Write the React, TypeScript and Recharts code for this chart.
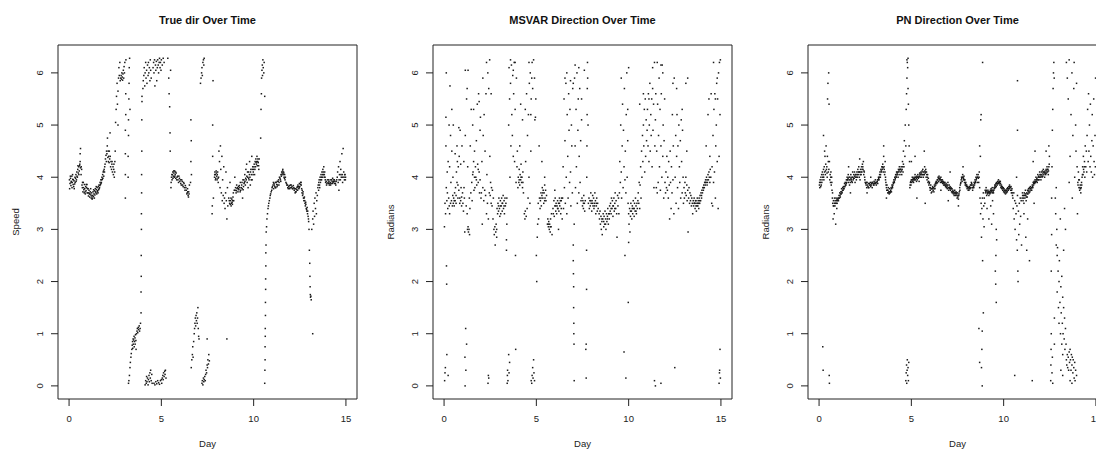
import React from 'react';
import { ScatterChart, Scatter, XAxis, YAxis, ReferenceArea } from 'recharts';

// [day, value] pairs
const trueDirPoints: number[][] = [
  [0.02,3.95],[0.05,3.88],[0.08,3.98],[0.1,3.84],[0.12,3.92],[0.15,4.02],[0.17,3.9],[0.2,3.96],[0.22,3.86],[0.25,3.82],[0.27,3.93],[0.3,3.87],[0.32,4.0],[0.35,3.98],[0.37,4.05],[0.4,3.95],[0.42,4.1],[0.45,4.0],[0.47,4.15],[0.5,4.08],[0.52,4.2],[0.55,4.12],[0.57,4.22],[0.6,4.3],[0.6,4.45],[0.62,4.55],[0.62,4.18],[0.65,4.05],[0.68,4.15],[0.7,3.85],
  [0.72,3.8],[0.75,3.72],[0.77,3.9],[0.8,3.76],[0.82,3.7],[0.85,3.78],[0.88,3.68],[0.9,3.82],[0.92,3.74],[0.95,3.8],[0.97,3.86],[1.0,3.78],
  [1.02,3.7],[1.05,3.64],[1.08,3.75],[1.1,3.68],[1.12,3.62],[1.15,3.72],[1.18,3.66],[1.2,3.6],[1.22,3.7],[1.25,3.58],[1.28,3.65],[1.3,3.72],[1.32,3.63],[1.35,3.68],[1.38,3.74],[1.4,3.66],[1.42,3.78],[1.45,3.7],[1.48,3.76],[1.5,3.68],[1.52,3.8],[1.55,3.74],[1.58,3.82],[1.6,3.76],
  [1.62,3.85],[1.65,3.8],[1.68,3.9],[1.7,3.86],[1.72,3.95],[1.75,3.9],[1.78,4.0],[1.8,3.96],[1.82,4.05],[1.85,4.1],[1.88,4.02],[1.9,4.15],[1.92,4.1],[1.95,4.25],
  [1.97,4.35],[2.0,4.42],[2.02,4.3],[2.05,4.45],[2.07,4.6],[2.08,4.75],[2.1,4.38],[2.12,4.5],[2.15,4.4],[2.17,4.28],[2.2,4.35],[2.22,4.85],[2.25,4.2],[2.27,4.3],[2.3,4.15],[2.32,4.25],[2.35,4.1],[2.38,4.2],[2.4,4.05],[2.42,4.15],[2.45,4.0],[2.48,4.3],
  [2.5,4.5],[2.52,5.05],[2.55,5.3],[2.57,5.55],[2.6,5.8],[2.62,5.4],[2.65,5.65],[2.65,5.0],[2.68,5.9],[2.7,6.1],[2.72,5.95],[2.75,6.2],[2.77,5.85],
  [2.8,5.9],[2.82,5.95],[2.84,5.88],[2.86,6.0],[2.88,5.92],[2.9,5.86],[2.92,5.98],[2.94,6.05],[2.96,5.9],[2.98,6.12],[3.0,6.0],[3.02,6.2],
  [3.05,3.6],[3.05,4.05],[3.05,4.45],[3.05,4.9],[3.07,5.2],[3.07,5.6],[3.08,6.25],
  [3.2,4.0],[3.2,4.4],[3.22,4.8],[3.22,5.1],[3.24,5.5],[3.25,5.8],[3.26,6.1],[3.28,6.28],[3.3,5.3],
  [3.22,0.05],[3.24,0.1],[3.27,0.2],[3.3,0.35],[3.32,0.45],[3.35,0.55],[3.37,0.62],[3.4,0.7],[3.42,0.78],[3.44,0.85],[3.45,0.72],[3.47,0.9],[3.48,0.8],[3.5,0.88],[3.52,0.95],[3.53,0.75],[3.55,0.85],[3.57,0.92],[3.58,0.8],[3.6,0.98],[3.62,0.87],[3.63,0.7],[3.65,1.0],
  [3.68,1.05],[3.7,1.1],[3.72,1.02],[3.75,1.12],[3.77,1.08],[3.8,1.15],[3.82,1.05],[3.85,1.1],[3.87,1.2],
  [3.9,1.4],[3.9,1.8],[3.91,2.1],[3.91,2.5],[3.92,3.0],[3.92,3.3],[3.93,3.7],[3.93,4.05],[3.94,4.5],[3.94,5.1],[3.95,5.45],[3.95,5.55],
  [4.0,5.7],[4.02,5.85],[4.05,5.95],[4.07,6.1],[4.1,5.75],[4.12,6.0],[4.15,6.2],[4.17,5.9],[4.2,6.05],[4.22,5.8],[4.25,6.15],[4.28,5.95],[4.3,6.2],[4.32,6.0],[4.35,6.1],[4.38,5.85],[4.4,6.25],[4.42,6.05],[4.45,5.9],
  [4.12,0.02],[4.15,0.1],[4.18,0.05],[4.2,0.18],[4.22,0.08],[4.25,0.15],[4.28,0.02],[4.3,0.12],[4.33,0.2],[4.35,0.08],[4.38,0.25],[4.4,0.15],[4.42,0.3],[4.45,0.1],[4.48,0.22],[4.5,0.05],
  [4.55,6.1],[4.58,6.2],[4.6,6.0],[4.63,6.25],[4.65,5.75],[4.68,6.15],[4.7,6.05],[4.73,6.22],[4.75,5.85],[4.78,6.1],[4.8,6.25],[4.83,6.15],[4.85,6.0],[4.88,6.2],[4.9,6.28],[4.93,6.1],[4.95,6.2],[4.98,6.05],[5.0,6.25],[5.05,6.15],[5.1,6.28],[5.15,6.2],
  [4.6,0.05],[4.65,0.02],[4.7,0.08],[4.75,0.04],[4.8,0.1],[4.85,0.06],[4.9,0.03],[4.95,0.1],[5.0,0.12],[5.02,0.05],[5.05,0.15],[5.08,0.2],[5.1,0.12],[5.12,0.25],[5.15,0.18],[5.18,0.28],[5.2,0.22],[5.22,0.3],[5.25,0.15],
  [5.35,6.28],[5.4,5.9],[5.42,5.6],[5.45,5.35],[5.47,4.85],[5.48,4.5],[5.5,6.05],
  [5.52,3.8],[5.55,4.0],[5.58,3.95],[5.6,4.05],[5.62,4.1],[5.65,4.02],[5.68,4.08],[5.7,4.0],[5.72,4.12],[5.75,4.05],[5.78,3.98],[5.8,4.08],
  [5.85,4.0],[5.9,3.95],[5.95,4.02],[6.0,3.92],[6.05,3.88],[6.1,3.95],[6.15,3.85],[6.2,3.9],[6.25,3.8],[6.3,3.84],[6.35,3.75],[6.4,3.7],[6.42,3.78],[6.45,3.65],[6.48,3.72],[6.5,3.68],[6.52,3.85],
  [6.58,3.9],[6.6,4.3],[6.62,4.7],[6.6,5.1],[6.63,4.05],
  [6.62,0.35],[6.65,0.5],[6.68,0.6],[6.7,0.75],[6.72,0.55],[6.75,0.85],
  [6.78,1.0],[6.8,1.1],[6.82,1.2],[6.84,1.3],[6.86,1.15],[6.88,1.35],[6.9,1.25],[6.92,1.4],[6.94,1.2],[6.96,1.3],[6.98,1.5],[7.0,1.1],[7.02,0.95],[7.04,0.9],
  [7.12,5.8],[7.15,5.9],[7.18,6.0],[7.2,6.1],[7.22,5.95],[7.25,6.2],[7.28,6.25],[7.3,6.15],[7.32,6.28],
  [7.2,0.05],[7.22,0.1],[7.25,0.02],[7.28,0.15],[7.3,0.08],[7.32,0.12],[7.35,0.18],[7.38,0.1],[7.4,0.22],[7.42,0.3],[7.45,0.25],[7.48,0.4],[7.5,0.35],[7.52,0.5],[7.55,0.42],[7.57,0.6],[7.6,0.48],[7.48,0.9],
  [7.75,3.3],[7.76,3.45],[7.78,4.4],[7.78,5.0],[7.8,5.85],[7.82,3.6],
  [7.88,4.0],[7.9,4.1],[7.92,4.05],[7.95,3.98],[7.98,4.08],[8.0,4.02],[8.02,3.95],[8.05,4.1],[8.08,3.9],[8.1,4.0],
  [8.12,4.5],[8.15,4.3],[8.18,3.8],[8.2,4.6],[8.22,4.15],[8.25,3.7],[8.28,4.4],[8.3,3.55],[8.32,3.95],[8.35,3.65],[8.38,4.2],[8.4,3.5],[8.42,3.6],[8.45,3.4],[8.48,3.7],[8.5,4.1],[8.52,3.55],[8.55,3.2],[8.58,3.8],[8.6,3.45],[8.55,0.9],
  [8.65,3.6],[8.7,3.5],[8.72,3.9],[8.75,3.55],[8.78,3.45],[8.8,3.5],[8.82,3.58],[8.85,3.48],[8.88,3.62],[8.9,3.7],[8.92,3.55],[8.95,3.75],[8.98,4.0],
  [9.0,3.75],[9.05,3.7],[9.08,3.85],[9.1,3.78],[9.15,3.72],[9.18,3.82],[9.2,3.76],[9.25,3.8],[9.28,3.9],[9.3,3.75],[9.35,3.85],[9.38,3.78],[9.4,3.6],[9.42,3.95],[9.45,3.82],[9.48,3.88],
  [9.5,3.9],[9.52,4.05],[9.55,3.85],[9.58,4.15],[9.6,3.95],[9.62,4.25],[9.65,3.9],[9.68,4.0],[9.7,3.8],[9.72,4.1],[9.75,3.95],[9.78,4.3],[9.8,4.0],[9.82,3.85],[9.85,4.15],[9.88,4.05],[9.9,4.4],[9.92,3.95],[9.95,4.2],[9.98,4.1],
  [10.0,4.15],[10.03,4.25],[10.05,4.05],[10.08,4.3],[10.1,4.2],[10.12,4.35],[10.15,4.25],[10.18,4.4],[10.2,4.22],[10.22,4.3],[10.25,4.28],[10.28,4.15],[10.3,4.35],
  [10.38,4.75],[10.4,5.3],[10.42,5.6],[10.43,5.9],[10.45,6.05],[10.47,6.15],[10.48,5.95],[10.5,6.25],[10.52,6.1],[10.55,6.0],[10.57,6.2],[10.6,5.55],
  [10.6,0.05],[10.61,0.3],[10.62,0.5],[10.62,0.75],[10.63,0.95],[10.63,1.1],[10.64,1.35],[10.64,1.6],[10.65,1.85],[10.65,2.05],[10.66,2.3],[10.66,2.55],[10.67,2.7],[10.68,2.95],
  [10.7,3.05],[10.72,3.2],[10.75,3.3],[10.78,3.4],[10.8,3.45],[10.82,3.5],[10.85,3.55],[10.88,3.6],[10.9,3.65],[10.92,3.68],[10.95,3.72],[10.98,3.75],
  [11.0,3.8],[11.05,3.85],[11.08,3.78],[11.1,3.88],[11.15,3.82],[11.18,3.9],[11.2,3.8],[11.25,3.86],[11.28,3.92],[11.3,3.85],[11.35,3.95],[11.38,3.9],[11.4,4.0],[11.45,3.95],[11.48,4.05],
  [11.5,4.02],[11.52,4.1],[11.55,4.08],[11.58,4.15],[11.6,4.05],[11.62,4.1],[11.65,4.0],[11.68,4.05],[11.7,3.95],
  [11.75,3.9],[11.8,3.85],[11.85,3.8],[11.9,3.82],[11.95,3.78],[12.0,3.85],[12.05,3.8],[12.1,3.78],[12.15,3.84],[12.2,3.75],
  [12.25,3.7],[12.28,3.78],[12.3,3.72],[12.35,3.8],[12.38,3.75],[12.4,3.85],[12.45,3.78],[12.48,3.88],[12.5,3.82],[12.55,3.9],[12.58,3.85],[12.6,3.78],
  [12.62,3.7],[12.65,3.65],[12.68,3.72],[12.7,3.6],[12.72,3.55],[12.75,3.62],[12.78,3.5],[12.8,3.45],[12.82,3.52],[12.85,3.4],[12.88,3.35],[12.9,3.42],[12.92,3.3],[12.95,3.25],[12.98,3.15],
  [13.0,3.0],[13.02,2.6],[13.04,2.35],[13.05,2.1],[13.06,1.9],[13.07,1.75],[13.08,1.7],[13.1,1.72],[13.12,1.65],
  [13.15,3.0],[13.2,3.2],[13.22,3.35],[13.25,3.1],[13.28,3.5],[13.3,3.25],[13.32,3.6],[13.35,3.4],[13.38,3.7],[13.4,3.3],[13.42,3.55],[13.45,3.65],[13.48,3.8],[13.2,1.0],
  [13.5,3.85],[13.52,3.75],[13.55,3.95],[13.58,3.8],[13.6,4.0],[13.62,3.9],[13.65,4.05],[13.68,3.95],[13.7,4.1],[13.72,4.0],[13.75,4.15],[13.78,4.05],[13.8,4.2],[13.82,4.0],[13.85,4.1],[13.88,3.95],
  [13.9,3.9],[13.95,3.85],[14.0,3.95],[14.05,3.88],[14.08,3.92],[14.1,3.85],[14.15,3.9],[14.18,3.95],[14.2,3.88],[14.25,3.92],[14.28,3.98],[14.3,3.9],[14.35,3.95],[14.38,3.88],[14.4,3.92],[14.45,3.85],
  [14.5,3.95],[14.55,4.1],[14.58,3.9],[14.6,4.2],[14.62,3.75],[14.65,4.05],[14.68,4.3],[14.7,3.95],[14.72,4.15],[14.75,4.0],[14.78,4.45],[14.8,4.05],[14.82,3.9],[14.85,4.55],[14.88,4.1],[14.9,4.0],[14.92,3.95],[14.95,4.05],[14.98,4.0],
];

// extra readings where the true-direction track is thick
const trueDirExtra: number[][] = [
  [0.03,3.78],[0.07,4.02],[0.11,3.9],[0.16,3.8],[0.19,4.05],[0.23,3.95],[0.28,3.78],[0.33,3.9],[0.38,3.92],[0.43,4.02],[0.48,4.22],[0.53,4.05],[0.58,4.25],[0.66,4.2],[0.73,3.9],[0.78,3.8],[0.83,3.86],[0.87,3.72],[0.93,3.86],[0.98,3.7],
  [1.03,3.78],[1.07,3.7],[1.13,3.68],[1.17,3.78],[1.23,3.64],[1.27,3.6],[1.33,3.76],[1.37,3.6],[1.43,3.72],[1.47,3.82],[1.53,3.72],[1.57,3.7],[1.63,3.78],[1.67,3.84],[1.73,3.88],[1.77,3.95],[1.83,3.98],[1.87,4.12],[1.93,4.2],
  [2.03,4.5],[2.13,4.3],[2.18,4.5],[2.23,4.4],[2.33,4.3],[2.43,4.25],[2.47,4.1],
  [5.53,3.9],[5.57,4.05],[5.63,3.98],[5.67,4.12],[5.73,4.02],[5.77,4.1],[5.83,3.95],[5.88,4.02],[5.93,3.9],[5.98,3.98],[6.03,3.95],[6.08,3.85],[6.13,3.92],[6.18,3.82],[6.23,3.88],[6.28,3.75],[6.33,3.8],[6.38,3.68],[6.43,3.72],[6.47,3.62],
  [7.89,4.05],[7.93,3.95],[7.97,4.12],[8.03,4.05],[8.07,3.98],
  [8.68,3.55],[8.73,3.48],[8.77,3.6],[8.83,3.52],[8.87,3.55],[9.02,3.8],[9.07,3.74],[9.12,3.8],[9.17,3.78],[9.22,3.84],[9.27,3.72],[9.33,3.8],[9.37,3.9],[9.43,3.76],[9.47,3.95],
  [9.53,3.92],[9.57,3.98],[9.63,4.02],[9.67,4.1],[9.73,3.98],[9.77,4.05],[9.83,4.1],[9.87,3.95],[9.93,4.15],[9.97,4.05],[10.02,4.2],[10.07,4.15],[10.13,4.28],[10.17,4.3],[10.23,4.35],[10.27,4.22],
  [11.02,3.82],[11.07,3.9],[11.12,3.85],[11.17,3.8],[11.22,3.9],[11.27,3.82],[11.33,3.92],[11.37,3.85],[11.43,3.98],[11.47,3.92],[11.53,4.05],[11.57,4.12],[11.63,4.08],[11.67,3.98],[11.72,4.0],[11.78,3.88],[11.83,3.85],[11.88,3.78],[11.93,3.84],[11.98,3.8],
  [12.03,3.85],[12.08,3.82],[12.13,3.78],[12.18,3.8],[12.23,3.78],[12.27,3.72],[12.33,3.76],[12.37,3.82],[12.43,3.82],[12.47,3.8],[12.53,3.86],[12.57,3.9],[12.63,3.75],[12.67,3.68],[12.73,3.6],[12.77,3.55],[12.83,3.48],[12.87,3.38],[12.93,3.35],[12.97,3.2],
  [13.53,3.9],[13.57,3.85],[13.63,3.95],[13.67,4.0],[13.73,4.05],[13.77,4.1],[13.83,4.05],[13.87,4.0],[13.93,3.92],[13.97,3.88],[14.03,3.9],[14.07,3.95],[14.13,3.88],[14.17,3.85],[14.23,3.95],[14.27,3.88],[14.33,3.92],[14.37,3.95],[14.43,3.88],[14.47,3.92],
  [14.53,4.0],[14.63,3.95],[14.73,4.05],[14.83,4.0],[14.93,4.05],[14.97,3.95],
];

const msvarPoints: number[][] = [
  [0.02,3.05],[0.03,0.1],[0.05,0.25],[0.05,3.5],[0.07,0.35],[0.08,3.3],[0.1,4.6],[0.1,5.15],[0.12,6.0],[0.12,3.8],[0.13,2.3],[0.14,1.95],[0.15,3.55],[0.15,0.6],[0.17,4.1],[0.18,3.7],[0.2,3.4],[0.22,4.3],[0.22,0.2],[0.25,3.6],[0.27,5.0],[0.28,3.45],[0.3,4.2],[0.3,3.3],[0.32,5.75],[0.35,3.5],[0.35,4.8],[0.37,3.9],[0.4,3.55],[0.42,4.5],[0.42,5.3],[0.45,3.45],[0.47,3.65],[0.48,4.0],
  [0.5,3.5],[0.52,3.6],[0.55,3.45],[0.57,3.7],[0.6,3.55],[0.62,3.8],[0.65,3.65],[0.67,4.1],[0.7,3.9],[0.72,4.3],[0.75,3.85],[0.77,4.2],[0.8,3.75],[0.82,4.4],[0.85,3.6],[0.87,4.9],[0.9,3.55],[0.92,3.8],[0.95,3.45],[0.97,4.6],[1.0,3.7],[0.6,4.45],[0.7,4.6],[0.9,4.25],
  [1.02,3.5],[1.05,3.35],[1.07,4.3],[1.08,3.8],[1.1,3.6],[1.12,2.95],[1.13,0.55],[1.14,0.0],[1.15,4.8],[1.15,6.05],[1.17,1.1],[1.18,0.3],[1.2,3.45],[1.22,0.8],[1.22,5.5],[1.25,3.3],[1.25,5.7],[1.27,3.0],[1.28,4.2],[1.3,3.05],
  [1.32,2.95],[1.35,3.0],[1.37,3.6],[1.38,2.9],[1.4,3.4],[1.42,4.6],[1.45,3.7],[1.47,5.3],[1.5,3.9],[1.52,3.55],[1.55,5.0],[1.57,4.1],[1.6,4.3],
  [1.62,3.75],[1.65,4.5],[1.67,3.8],[1.7,4.2],[1.72,4.0],[1.75,4.7],[1.77,3.85],[1.8,5.4],[1.82,4.25],[1.85,3.9],[1.87,5.6],[1.9,4.1],[1.92,3.7],[1.95,4.9],[1.97,5.15],[2.0,3.6],
  [2.02,3.7],[2.05,4.3],[2.07,3.1],[2.1,3.8],[2.12,4.8],[2.15,3.55],[2.17,5.2],[2.2,3.75],[2.22,4.5],[2.25,3.65],[2.27,5.6],[2.3,3.3],[2.32,4.05],[2.35,3.5],[2.37,6.0],[2.38,0.05],[2.4,0.2],[2.4,3.2],[2.42,0.15],[2.42,5.7],[2.45,3.7],[2.47,6.25],[2.48,4.4],
  [2.5,3.65],[2.52,3.9],[2.55,3.5],[2.57,3.8],[2.6,3.45],[2.62,3.75],[2.65,3.2],[2.67,3.6],[2.7,3.0],[2.72,2.9],[2.75,3.05],[2.77,2.7],[2.8,2.95],[2.82,3.1],[2.85,2.85],[2.87,3.4],[2.9,3.3],
  [2.92,3.5],[2.95,3.35],[2.97,3.6],[3.0,3.4],[3.02,3.25],[3.05,3.55],[3.07,3.3],[3.1,3.45],[3.12,3.6],[3.15,3.35],[3.17,3.5],[3.2,3.65],[3.22,3.4],[3.25,3.55],[3.27,3.3],[3.3,3.6],[3.32,3.45],[3.35,3.5],
  [3.38,2.6],[3.38,2.8],[3.4,3.1],[3.4,3.6],[3.42,0.05],[3.43,0.2],[3.44,0.3],[3.46,0.1],[3.5,0.6],[3.52,0.25],[3.55,0.45],
  [3.5,5.0],[3.52,6.1],[3.55,5.5],[3.57,4.0],[3.6,5.8],[3.62,4.6],[3.65,6.15],[3.67,5.2],[3.7,4.8],[3.72,5.95],[3.75,4.4],[3.77,5.6],[3.8,6.2],[3.82,4.3],[3.85,5.3],[3.87,2.5],[3.88,0.7],[3.9,3.9],[3.92,5.9],[3.95,4.2],[3.97,4.5],[4.0,3.8],
  [4.02,4.0],[4.05,3.9],[4.07,4.15],[4.1,3.85],[4.12,4.05],[4.15,3.95],[4.17,4.25],[4.2,3.9],[4.22,4.0],[4.25,3.8],[4.27,4.1],[4.3,3.7],[4.15,5.4],[4.25,5.1],[4.1,4.6],
  [4.35,3.3],[4.38,3.2],[4.4,3.35],[4.42,4.3],[4.45,3.25],[4.47,5.6],[4.5,3.4],[4.52,4.8],[4.55,3.6],[4.57,5.2],[4.6,4.0],[4.62,5.8],[4.65,3.5],[4.67,6.0],[4.7,4.5],[4.72,5.5],[4.75,5.9],[4.77,6.2],[4.8,5.7],
  [4.72,0.1],[4.75,0.05],[4.77,0.2],[4.8,0.35],[4.82,0.15],[4.85,0.5],[4.87,0.25],[4.9,0.1],
  [4.92,5.1],[4.95,5.15],[4.97,5.5],[5.0,2.5],[5.02,2.0],[5.05,2.85],[5.07,3.1],[5.1,3.5],[5.12,3.2],[5.15,4.6],[5.17,3.6],[5.2,3.4],
  [5.22,3.55],[5.25,3.7],[5.27,3.45],[5.3,3.65],[5.32,3.8],[5.35,3.6],[5.37,3.75],[5.4,3.5],[5.42,3.7],[5.45,3.85],[5.47,3.6],[5.5,3.75],[5.52,3.55],[5.55,3.65],[5.3,4.3],[5.45,4.0],
  [5.6,3.1],[5.62,3.2],[5.65,3.05],[5.67,3.15],[5.7,3.0],[5.72,3.1],[5.75,2.95],[5.77,3.2],[5.8,3.05],[5.82,3.3],[5.85,2.9],
  [5.9,3.4],[5.92,3.3],[5.95,3.55],[5.97,3.25],[6.0,3.45],[6.02,3.6],[6.05,3.35],[6.07,3.5],[6.1,3.3],[6.12,3.45],[6.15,3.55],[6.17,3.4],[6.2,3.5],[6.22,3.35],[6.25,3.6],[6.27,3.45],[6.3,3.55],[6.32,3.3],[6.35,3.4],[6.37,3.6],[6.4,3.2],[6.0,3.75],[6.2,3.0],
  [6.42,3.6],[6.45,4.2],[6.47,3.4],[6.5,5.5],[6.52,3.8],[6.55,4.7],[6.57,3.5],[6.6,5.8],[6.62,4.0],[6.65,3.3],[6.67,5.2],[6.7,4.4],[6.72,3.6],[6.75,5.6],[6.77,4.9],[6.8,3.9],[6.82,5.3],[6.85,4.1],[6.87,3.45],[6.9,5.0],[6.92,4.6],[6.95,3.7],[6.97,5.7],
  [7.0,2.7],[7.0,2.4],[7.01,2.15],[7.02,1.9],[7.02,1.5],[7.03,1.2],[7.03,1.0],[7.04,0.8],[7.05,0.1],[7.05,3.1],
  [7.07,5.9],[7.1,4.6],[7.12,3.8],[7.15,5.3],[7.17,4.2],[7.2,6.0],[7.22,3.5],[7.25,4.9],[7.27,5.5],[7.3,3.7],[7.32,4.4],[7.35,5.7],[7.37,3.9],[7.4,4.7],[7.42,3.55],[7.45,5.1],
  [7.47,3.6],[7.5,3.45],[7.52,3.55],[7.55,3.4],[7.57,3.65],[7.6,3.5],[7.62,3.35],[7.65,3.55],
  [7.68,0.7],[7.7,0.8],[7.7,0.15],[7.72,2.6],[7.72,1.85],[7.73,4.0],[7.74,4.6],[7.75,5.2],[7.76,5.7],[7.77,6.2],[7.78,5.9],[7.8,5.0],
  [7.82,3.5],[7.85,3.6],[7.87,3.4],[7.9,3.55],[7.92,3.45],[7.95,3.7],[7.97,3.5],[8.0,3.35],[8.02,3.55],[8.05,3.65],[8.07,3.45],[8.1,3.6],[8.12,3.4],[8.15,3.5],[8.17,3.7],[8.2,3.55],[8.22,3.3],[8.25,3.45],[8.27,3.6],[8.3,3.35],[8.32,3.5],[8.35,3.4],
  [8.4,3.3],[8.42,3.2],[8.45,3.35],[8.47,3.1],[8.5,3.25],[8.52,3.0],[8.55,3.15],[8.57,2.9],[8.6,3.2],[8.62,3.3],[8.65,3.05],[8.67,3.25],[8.7,3.1],[8.72,3.35],[8.75,3.2],[8.77,3.0],[8.8,3.3],[8.82,3.15],[8.85,3.25],[8.87,3.4],[8.9,3.1],[8.92,3.3],[8.95,3.2],[8.97,3.45],
  [9.0,3.35],[9.02,3.5],[9.05,3.3],[9.07,3.6],[9.1,3.4],[9.12,3.55],[9.15,3.25],[9.17,3.45],[9.2,3.6],[9.22,3.35],[9.25,3.5],[9.27,3.7],[9.3,3.4],[9.32,3.55],[9.35,3.3],[9.37,2.85],[9.4,3.65],[9.42,3.45],[9.45,3.6],[9.47,3.3],
  [9.5,3.7],[9.52,4.3],[9.55,3.9],[9.57,5.0],[9.6,4.1],[9.62,3.6],[9.65,4.6],[9.67,5.4],[9.7,3.8],[9.72,4.9],[9.75,4.2],[9.77,5.7],[9.8,3.95],[9.82,4.5],[9.85,3.7],[9.87,5.2],[9.9,6.0],[9.92,4.0],[9.95,4.7],[9.97,3.5],[9.8,2.5],[9.75,0.65],[9.85,0.15],
  [10.0,3.3],[10.02,3.1],[10.05,3.4],[10.07,2.95],[10.1,3.25],[10.12,3.5],[10.15,3.35],[10.17,3.2],[10.2,3.45],[10.22,3.3],[10.25,3.55],[10.27,3.4],[10.3,3.25],[10.32,3.5],[10.35,3.35],[10.37,3.6],[10.4,3.45],[10.42,3.3],[10.45,3.5],[10.47,3.4],[10.5,3.55],[10.0,2.75],[9.98,1.6],[10.0,6.1],
  [10.52,3.7],[10.55,3.5],[10.57,3.9],[10.6,3.4],[10.62,3.85],[10.65,4.2],[10.67,3.6],[10.7,4.5],[10.72,4.0],[10.75,4.8],[10.77,4.3],[10.8,5.0],[10.82,4.6],[10.85,5.3],[10.87,4.1],[10.9,5.5],[10.92,4.4],[10.95,5.1],[10.97,4.7],
  [11.0,4.9],[11.02,5.3],[11.05,4.6],[11.07,5.6],[11.1,4.3],[11.12,5.0],[11.15,5.8],[11.17,4.5],[11.2,5.2],[11.22,4.8],[11.25,5.5],[11.27,4.2],[11.3,5.7],[11.32,4.9],[11.35,5.4],[11.37,3.8],[11.4,6.2],[11.42,4.6],[11.45,5.1],[11.47,5.6],[11.4,0.1],[11.45,0.0],
  [11.5,3.8],[11.52,4.5],[11.55,3.7],[11.57,5.4],[11.6,3.9],[11.62,4.8],[11.65,5.9],[11.67,4.2],[11.7,5.3],[11.72,3.75],[11.75,4.6],[11.77,5.6],[11.8,4.0],[11.82,6.15],[11.85,4.4],[11.87,5.0],[11.9,3.6],[11.92,4.7],[11.95,5.5],[11.97,3.9],[11.75,0.05],[11.85,6.0],
  [12.0,3.7],[12.02,4.1],[12.05,3.8],[12.07,4.4],[12.1,3.75],[12.12,4.0],[12.15,3.6],[12.17,4.3],[12.2,3.85],[12.22,3.2],[12.25,4.5],[12.27,3.9],[12.3,3.4],[12.32,4.2],[12.35,3.7],[12.37,5.2],[12.4,3.95],[12.42,4.6],[12.45,3.3],[12.47,5.9],[12.5,0.35],
  [12.52,4.0],[12.55,4.8],[12.57,3.5],[12.6,4.4],[12.62,5.2],[12.65,3.8],[12.67,4.6],[12.7,3.4],[12.72,5.0],[12.75,4.2],[12.77,3.9],[12.8,4.7],[12.82,3.6],[12.85,5.1],[12.87,4.3],[12.9,3.7],[12.92,4.9],[12.95,4.0],[12.97,3.5],
  [13.0,3.8],[13.02,3.6],[13.05,3.9],[13.07,3.7],[13.1,4.0],[13.12,3.65],[13.15,3.85],[13.17,3.55],[13.2,3.75],[13.22,2.95],[13.25,3.6],[13.27,3.8],[13.3,3.5],[13.32,3.7],[13.35,3.55],[13.37,3.65],[13.4,3.45],[13.42,3.6],[13.45,3.5],[13.47,3.3],[13.2,5.9],[13.15,4.5],
  [13.5,3.55],[13.52,3.45],[13.55,3.6],[13.57,3.5],[13.6,3.4],[13.62,3.55],[13.65,3.45],[13.67,3.35],[13.7,3.5],[13.72,3.6],[13.75,3.45],[13.77,3.55],[13.8,3.4],[13.82,3.6],[13.85,3.5],[13.87,3.65],[13.9,3.55],[13.92,3.7],[13.95,3.6],[13.97,3.75],
  [14.0,3.7],[14.02,3.8],[14.05,3.75],[14.07,3.85],[14.1,3.8],[14.12,3.9],[14.15,3.85],[14.17,3.95],[14.2,3.9],[14.22,4.0],[14.25,3.95],[14.27,3.9],[14.3,4.05],[14.32,3.95],[14.35,4.1],[14.37,4.0],[14.4,3.9],[14.42,4.15],[14.45,4.0],[14.47,5.6],[14.3,5.2],[14.2,4.6],[14.35,5.5],[14.4,4.4],
  [14.5,3.5],[14.52,4.2],[14.55,3.45],[14.57,4.8],[14.6,3.9],[14.62,5.3],[14.65,4.1],[14.67,5.6],[14.7,3.6],[14.72,4.6],[14.75,5.0],[14.77,5.8],[14.8,4.3],[14.82,5.5],[14.85,3.4],[14.87,6.0],[14.9,4.4],[14.92,6.2],[14.95,5.2],[14.97,6.25],[14.9,0.05],[14.92,0.25],[14.93,0.3],[14.95,0.7],[14.97,0.15],
];

const msvarExtra: number[][] = [
  [0.55,3.55],[0.65,3.5],[0.75,3.6],[0.85,3.5],[0.95,3.62],[1.55,4.05],[1.65,4.0],[1.75,3.95],[1.85,4.15],[1.95,3.95],[2.85,3.0],[2.95,3.45],[3.05,3.45],[3.15,3.5],[3.25,3.45],
  [4.07,3.95],[4.17,4.0],[4.27,3.9],[5.25,3.6],[5.35,3.7],[5.45,3.55],[5.65,3.1],[5.75,3.05],[6.05,3.45],[6.15,3.4],[6.25,3.5],[6.35,3.55],[7.55,3.5],
  [7.95,3.55],[8.05,3.5],[8.15,3.45],[8.25,3.5],[8.55,3.2],[8.65,3.15],[8.75,3.1],[8.85,3.2],[8.95,3.3],[9.05,3.4],[9.15,3.45],[9.25,3.4],
  [10.1,3.35],[10.2,3.4],[10.3,3.4],[10.4,3.35],[13.55,3.5],[13.65,3.55],[13.75,3.5],[13.85,3.55],[13.6,3.5],[13.7,3.45],[13.8,3.5],[13.95,3.65],[14.05,3.8],[14.15,3.9],[14.25,3.85],
  [0.5,5.0],[0.8,4.95],[1.3,6.05],[1.6,5.3],[1.9,5.45],[2.1,5.9],[2.3,6.2],[2.55,5.6],[3.6,6.25],[3.75,6.05],[3.85,6.2],[4.4,5.3],[4.6,6.2],[4.7,5.2],[4.85,6.25],[4.9,5.9],
  [6.55,5.9],[6.65,6.0],[6.85,5.85],[7.0,5.8],[7.1,6.15],[7.3,6.1],[7.45,5.5],[7.6,6.05],[9.6,5.9],[9.95,5.3],[10.6,5.4],[10.8,5.6],[11.1,5.5],[11.3,6.1],[11.55,6.2],[11.75,6.15],
  [12.4,5.8],[12.6,5.7],[12.9,5.3],[13.1,5.8],[14.6,6.2],[14.8,5.9],[14.7,5.5],
];

const pnPoints: number[][] = [
  [0.02,3.85],[0.04,3.8],[0.06,3.95],[0.08,3.9],[0.1,4.0],[0.12,3.85],[0.14,4.05],[0.16,3.95],[0.18,4.1],[0.2,4.0],
  [0.22,4.05],[0.24,4.15],[0.26,3.95],[0.28,4.2],[0.3,4.1],[0.32,4.4],[0.34,4.05],[0.36,4.25],[0.38,4.6],[0.4,4.15],[0.24,4.8],[0.3,4.5],[0.2,0.75],[0.22,0.3],
  [0.42,4.2],[0.44,4.0],[0.46,5.5],[0.48,5.8],[0.5,4.1],[0.52,6.0],[0.54,5.4],[0.55,0.2],[0.56,0.05],[0.56,4.3],[0.58,3.95],[0.6,4.05],[0.62,3.9],[0.64,4.1],[0.66,3.85],[0.68,4.0],[0.7,3.75],[0.45,4.4],[0.5,4.3],
  [0.72,3.6],[0.74,3.5],[0.76,3.2],[0.78,3.55],[0.8,3.45],[0.82,3.3],[0.84,3.6],[0.86,3.45],[0.88,3.5],[0.9,3.1],[0.92,3.6],[0.94,3.55],[0.96,3.4],[0.98,3.5],[1.0,3.55],
  [1.02,3.6],[1.05,3.55],[1.08,3.65],[1.1,3.6],[1.12,3.7],[1.15,3.62],[1.18,3.72],[1.2,3.68],[1.22,3.78],[1.25,3.7],[1.28,3.8],[1.3,3.75],[1.32,3.82],[1.35,3.78],[1.38,3.88],[1.4,3.82],[1.42,3.9],[1.45,3.85],[1.48,3.95],
  [1.5,3.9],[1.52,4.0],[1.55,3.95],[1.58,4.05],[1.6,3.9],[1.62,4.0],[1.65,3.85],[1.68,3.95],[1.7,3.9],[1.72,4.05],[1.75,3.95],[1.78,4.0],[1.8,3.9],[1.82,4.1],[1.85,3.95],[1.88,4.05],[1.9,3.98],[1.92,4.1],[1.95,3.9],[1.98,4.0],[1.7,3.7],[1.6,4.2],
  [2.0,4.05],[2.02,3.95],[2.05,4.1],[2.08,4.0],[2.1,4.15],[2.12,4.05],[2.15,4.2],[2.18,4.0],[2.2,4.1],[2.22,3.95],[2.25,4.15],[2.28,4.05],[2.3,4.2],[2.32,4.1],[2.35,4.25],[2.38,4.15],[2.4,4.3],[2.42,4.05],[2.45,4.1],[2.48,3.95],[2.2,4.35],
  [2.5,3.9],[2.55,3.85],[2.58,3.8],[2.6,3.9],[2.65,3.82],[2.68,3.88],[2.7,3.8],[2.75,3.85],[2.78,3.9],[2.8,3.82],[2.85,3.88],[2.88,3.8],[2.9,3.9],[2.95,3.85],[2.98,3.92],[3.0,3.88],[3.05,3.95],[3.08,3.9],[3.1,3.85],[3.15,3.92],[3.18,3.88],[3.2,3.95],[2.6,3.7],[2.8,4.0],
  [3.22,4.0],[3.25,3.95],[3.28,4.05],[3.3,4.1],[3.32,4.0],[3.35,4.15],[3.38,4.1],[3.4,4.2],[3.42,4.15],[3.45,4.25],[3.48,4.1],[3.5,4.4],[3.52,4.2],[3.55,4.05],[3.58,4.3],[3.6,4.0],[3.5,4.6],
  [3.62,3.9],[3.65,3.8],[3.68,3.85],[3.7,3.75],[3.72,3.7],[3.75,3.8],[3.78,3.72],[3.8,3.68],[3.82,3.78],[3.85,3.7],[3.88,3.75],[3.9,3.8],[3.92,3.72],[3.95,3.85],[3.98,3.8],[3.65,3.6],[3.6,3.95],
  [4.0,3.85],[4.02,3.9],[4.05,3.95],[4.08,3.9],[4.1,4.0],[4.12,3.95],[4.15,4.05],[4.18,4.0],[4.2,4.1],[4.22,4.05],[4.25,4.1],[4.28,4.0],[4.3,4.15],[4.32,4.1],[4.35,4.2],[4.38,4.05],[4.4,4.15],[4.42,4.1],[4.45,4.2],[4.48,4.05],
  [4.5,4.15],[4.52,4.3],[4.55,4.1],[4.57,4.5],[4.6,4.2],[4.62,4.7],[4.65,4.4],[4.67,5.0],[4.7,4.6],[4.72,5.3],[4.74,5.6],[4.76,5.9],[4.78,6.2],[4.8,6.1],[4.82,5.7],[4.84,5.4],[4.86,5.0],[4.88,4.6],[4.9,4.3],[4.7,0.1],[4.72,0.25],[4.74,0.4],[4.75,0.05],[4.77,0.3],[4.78,0.5],[4.8,0.2],[4.82,0.35],[4.84,0.1],[4.86,0.45],[4.76,6.25],[4.82,6.28],
  [4.92,3.8],[4.95,3.9],[4.98,3.85],[5.0,3.95],[5.02,3.9],[5.05,4.0],[5.08,3.92],[5.1,3.98],[5.12,3.9],[5.15,4.0],[5.18,3.95],[5.2,4.05],[5.22,3.95],[5.25,4.0],[5.28,3.92],[5.3,4.02],[5.32,3.95],[5.35,4.05],[5.38,3.98],[5.4,4.0],[5.42,3.92],[5.45,4.08],[5.48,4.0],[5.0,4.3],[5.2,4.4],[5.3,3.6],
  [5.5,4.05],[5.52,4.1],[5.55,4.0],[5.58,4.12],[5.6,4.05],[5.62,4.15],[5.65,4.0],[5.68,4.1],[5.7,4.05],[5.72,4.2],[5.75,4.08],[5.78,4.15],[5.8,4.0],[5.82,4.1],[5.85,3.95],[5.88,4.05],[5.9,3.9],[5.92,3.98],[5.95,3.85],[5.98,3.9],[5.7,4.5],[5.75,3.5],
  [6.0,3.8],[6.02,3.75],[6.05,3.85],[6.08,3.7],[6.1,3.78],[6.12,3.72],[6.15,3.82],[6.18,3.75],[6.2,3.8],[6.22,3.72],[6.25,3.85],[6.28,3.78],[6.3,3.88],
  [6.32,3.85],[6.35,3.92],[6.38,3.88],[6.4,3.95],[6.42,3.9],[6.45,4.0],[6.48,3.92],[6.5,4.02],[6.52,3.95],[6.55,3.98],[6.58,3.9],[6.6,4.0],[6.62,3.95],[6.65,3.9],[6.68,3.95],[6.7,3.88],[6.72,3.92],[6.75,3.85],[6.78,3.9],[6.6,3.75],
  [6.8,3.85],[6.82,3.9],[6.85,3.82],[6.88,3.88],[6.9,3.8],[6.92,3.85],[6.95,3.78],[6.98,3.9],[7.0,3.8],[7.02,3.75],[7.05,3.85],[7.08,3.78],[7.1,3.82],[7.12,3.75],[7.15,3.8],[7.18,3.72],[7.2,3.78],[7.22,3.7],[7.25,3.75],[7.28,3.68],[7.0,3.55],[7.1,4.1],
  [7.3,3.72],[7.32,3.65],[7.35,3.75],[7.38,3.7],[7.4,3.65],[7.42,3.72],[7.45,3.68],[7.48,3.6],[7.5,3.7],[7.52,3.62],[7.55,3.58],[7.58,3.68],[7.6,3.72],[7.62,3.8],[7.65,3.85],[7.68,3.9],[7.55,3.45],
  [7.7,3.95],[7.72,4.0],[7.75,3.92],[7.78,4.05],[7.8,4.0],[7.82,3.95],[7.85,4.02],[7.88,3.9],[7.9,3.95],[7.92,3.85],[7.95,3.9],[7.98,3.82],[8.0,3.85],[8.02,3.78],[8.05,3.82],[8.08,3.75],[8.1,3.8],[7.8,4.2],
  [8.12,3.75],[8.15,3.82],[8.18,3.78],[8.2,3.85],[8.22,3.8],[8.25,3.9],[8.28,3.85],[8.3,3.8],[8.32,3.75],[8.35,3.85],[8.38,3.8],[8.4,3.9],[8.42,3.85],[8.45,3.95],[8.48,3.9],[8.5,4.0],[8.52,3.95],[8.55,4.05],[8.58,3.9],[8.6,4.0],
  [8.62,4.05],[8.65,3.9],[8.68,4.1],[8.7,3.8],[8.72,3.6],[8.74,4.4],[8.75,3.3],[8.76,5.1],[8.78,5.2],[8.78,3.5],[8.8,2.85],[8.8,0.35],[8.82,3.4],[8.82,0.7],[8.84,0.0],[8.84,1.05],[8.85,3.6],[8.86,2.4],[8.86,6.2],[8.88,3.2],[8.9,3.7],[8.9,1.4],[8.92,3.45],[8.94,3.05],[8.95,3.6],[8.98,3.5],[8.7,4.6],[8.66,1.1],[8.7,0.45],
  [9.0,3.75],[9.02,3.7],[9.05,3.8],[9.08,3.65],[9.1,3.72],[9.12,3.68],[9.15,3.75],[9.18,3.7],[9.2,3.65],[9.22,3.72],[9.25,3.68],[9.28,3.75],[9.3,3.7],[9.32,3.78],[9.35,3.72],[9.38,3.8],[9.4,3.7],[9.42,3.75],[9.45,3.7],[9.48,3.8],[9.1,3.4],[9.2,3.2],[9.3,3.45],[9.35,3.1],[9.4,3.55],[9.45,3.3],
  [9.55,2.2],[9.57,1.95],[9.58,2.5],[9.6,3.0],[9.6,1.6],[9.62,2.8],
  [9.5,3.78],[9.52,3.85],[9.55,3.8],[9.58,3.88],[9.6,3.82],[9.62,3.9],[9.65,3.85],[9.68,3.92],[9.7,3.88],[9.72,3.95],[9.75,3.88],[9.78,3.9],[9.8,3.85],[9.82,3.92],[9.85,3.8],[9.88,3.85],[9.9,3.78],[9.92,3.82],[9.95,3.75],[9.98,3.8],
  [10.0,3.72],[10.02,3.78],[10.05,3.7],[10.08,3.75],[10.1,3.68],[10.12,3.75],[10.15,3.7],[10.18,3.78],[10.2,3.72],[10.22,3.8],[10.25,3.75],[10.28,3.82],[10.3,3.78],[10.32,3.85],[10.35,3.8],[10.38,3.75],[10.4,3.82],[10.42,3.7],[10.45,3.78],[10.48,3.65],
  [10.5,3.6],[10.52,3.4],[10.55,3.7],[10.57,3.2],[10.6,3.55],[10.62,3.0],[10.65,3.5],[10.67,3.3],[10.7,2.8],[10.7,4.0],[10.72,3.45],[10.74,2.6],[10.75,3.65],[10.77,2.2],[10.78,2.0],[10.8,3.35],[10.82,2.9],[10.85,3.5],[10.87,3.1],[10.9,3.6],[10.92,3.25],[10.95,3.55],[10.97,2.7],[10.75,4.9],[10.6,0.2],[10.75,5.85],
  [11.0,3.6],[11.02,3.7],[11.05,3.55],[11.08,3.65],[11.1,3.5],[11.12,3.7],[11.15,3.6],[11.18,3.75],[11.2,3.65],[11.22,3.55],[11.25,3.7],[11.28,3.62],[11.3,3.75],[11.32,3.68],[11.35,3.78],[11.38,3.7],[11.4,3.8],[11.42,3.72],[11.45,3.82],[11.48,3.75],[11.1,3.3],[11.2,2.85],[11.25,2.6],[11.3,3.2],[11.4,2.4],
  [11.5,3.8],[11.52,3.75],[11.55,3.85],[11.58,3.8],[11.6,3.9],[11.62,3.85],[11.65,3.92],[11.68,3.88],[11.7,3.95],[11.72,3.9],[11.75,4.0],[11.78,3.92],[11.8,3.98],[11.82,3.9],[11.85,4.05],[11.88,3.95],[11.9,4.02],[11.92,3.95],[11.95,4.1],[11.98,4.0],[11.6,4.3],[11.7,4.5],[11.65,3.5],[11.55,0.1],
  [12.0,4.05],[12.02,3.95],[12.05,4.1],[12.08,4.0],[12.1,4.12],[12.12,4.02],[12.15,4.15],[12.18,4.05],[12.2,4.1],[12.22,4.0],[12.25,4.12],[12.28,4.05],[12.3,4.15],[12.32,4.08],[12.35,4.2],[12.38,4.1],[12.4,4.15],[12.42,4.05],[12.45,4.2],[12.48,4.4],[12.3,4.5],[12.45,4.6],
  [12.55,0.1],[12.56,0.4],[12.57,0.7],[12.58,1.0],[12.58,2.2],[12.6,2.9],[12.6,3.6],[12.62,4.2],[12.62,0.25],[12.64,0.55],[12.64,4.9],[12.66,5.3],[12.66,0.05],[12.68,5.7],[12.7,6.0],[12.72,6.2],[12.74,5.9],[12.75,0.8],[12.75,1.3],
  [12.8,3.6],[12.82,3.3],[12.85,2.7],[12.85,3.8],[12.88,3.0],[12.9,2.5],[12.9,1.8],[12.92,2.65],[12.95,2.2],[12.97,1.5],[13.0,2.0],[13.0,1.2],[13.02,2.4],[13.05,1.6],[13.07,3.2],[13.08,1.0],[13.1,1.9],[13.12,1.4],[13.15,0.8],[13.15,2.1],[13.18,1.2],[13.2,1.7],[13.2,0.6],[13.22,1.0],[13.25,1.5],[13.25,2.6],[13.28,0.9],[13.3,1.3],[13.32,0.7],[13.35,1.1],[13.38,0.8],[13.4,0.5],[13.3,3.4],[13.35,3.0],[13.2,0.2],[13.1,0.3],
  [13.42,0.4],[13.45,0.6],[13.47,0.35],[13.5,0.55],[13.52,0.3],[13.55,0.65],[13.57,0.45],[13.6,0.7],[13.62,0.5],[13.65,0.3],[13.67,0.6],[13.7,0.4],[13.72,0.55],[13.75,0.25],[13.77,0.5],[13.8,0.35],[13.82,0.15],[13.85,0.45],[13.87,0.1],[13.9,0.3],[13.95,0.2],[13.6,0.1],[13.7,0.05],
  [13.4,6.2],[13.45,5.9],[13.5,5.5],[13.55,6.25],[13.6,4.4],[13.65,5.2],[13.7,6.0],[13.72,3.6],[13.75,4.8],[13.8,5.7],[13.82,6.2],[13.85,4.0],[13.9,5.0],[13.92,4.5],[13.95,5.8],[13.98,4.2],[14.0,3.3],[13.55,3.9],
  [14.02,3.9],[14.05,4.1],[14.08,3.8],[14.1,3.95],[14.12,3.75],[14.15,3.85],[14.18,3.7],[14.2,3.8],[14.22,3.9],[14.25,4.0],[14.28,4.2],[14.3,4.05],[14.32,4.4],[14.35,4.1],[14.38,4.3],[14.4,4.0],[14.42,4.6],[14.45,4.2],[14.48,4.5],
  [14.5,4.1],[14.52,4.8],[14.55,5.3],[14.58,4.3],[14.6,5.6],[14.62,4.5],[14.65,5.0],[14.68,4.2],[14.7,5.4],[14.72,4.4],[14.75,4.1],[14.78,4.7],[14.8,5.2],[14.82,4.0],[14.85,4.6],[14.88,5.5],[14.9,4.3],[14.92,4.05],[14.95,4.8],[14.98,5.9],[14.97,4.2],
];

// extra readings along the thick PN band
const pnExtra: number[][] = [
  [0.03,3.9],[0.09,3.82],[0.15,3.9],[0.25,4.0],[0.35,4.12],[0.43,4.08],[0.53,4.15],[0.63,4.0],[0.69,3.9],[0.73,3.7],[0.77,3.45],[0.83,3.5],[0.87,3.55],[0.93,3.5],[0.97,3.58],
  [1.03,3.58],[1.07,3.6],[1.13,3.65],[1.17,3.68],[1.23,3.72],[1.27,3.75],[1.33,3.78],[1.37,3.82],[1.43,3.85],[1.47,3.88],[1.53,3.95],[1.57,3.98],[1.63,3.95],[1.67,4.0],[1.73,3.98],[1.77,3.92],[1.83,4.0],[1.87,3.98],[1.93,4.02],[1.97,4.05],
  [2.03,4.0],[2.07,4.05],[2.13,4.1],[2.17,4.1],[2.23,4.05],[2.27,4.1],[2.33,4.15],[2.37,4.2],[2.43,4.12],[2.47,4.0],[2.53,3.88],[2.57,3.9],[2.63,3.85],[2.67,3.8],[2.73,3.88],[2.77,3.85],[2.83,3.85],[2.87,3.9],[2.93,3.88],[2.97,3.85],
  [3.03,3.9],[3.07,3.88],[3.13,3.9],[3.17,3.95],[3.23,3.98],[3.27,4.0],[3.33,4.05],[3.37,4.12],[3.43,4.2],[3.47,4.18],[3.53,4.15],[3.57,4.1],[3.63,3.85],[3.67,3.75],[3.73,3.75],[3.77,3.7],[3.83,3.72],[3.87,3.72],[3.93,3.78],[3.97,3.82],
  [4.03,3.88],[4.07,3.92],[4.13,3.98],[4.17,4.02],[4.23,4.08],[4.27,4.05],[4.33,4.12],[4.37,4.15],[4.43,4.15],[4.47,4.12],[4.53,4.2],[4.57,4.25],
  [4.93,3.85],[4.97,3.92],[5.03,3.95],[5.07,3.95],[5.13,3.95],[5.17,3.98],[5.23,4.0],[5.27,3.98],[5.33,4.0],[5.37,4.0],[5.43,4.02],[5.47,4.05],[5.53,4.08],[5.57,4.05],[5.63,4.1],[5.67,4.05],[5.73,4.12],[5.77,4.1],[5.83,4.05],[5.87,4.0],[5.93,3.92],[5.97,3.88],
  [6.03,3.8],[6.07,3.78],[6.13,3.78],[6.17,3.8],[6.23,3.78],[6.27,3.82],[6.33,3.9],[6.37,3.9],[6.43,3.95],[6.47,3.98],[6.53,3.98],[6.57,3.95],[6.63,3.92],[6.67,3.92],[6.73,3.9],[6.77,3.88],[6.83,3.85],[6.87,3.85],[6.93,3.82],[6.97,3.85],
  [7.03,3.8],[7.07,3.8],[7.13,3.78],[7.17,3.78],[7.23,3.72],[7.27,3.72],[7.33,3.7],[7.37,3.68],[7.43,3.7],[7.47,3.65],[7.53,3.65],[7.57,3.65],[7.63,3.75],[7.67,3.88],[7.73,3.98],[7.77,4.0],[7.83,3.98],[7.87,3.95],[7.93,3.88],[7.97,3.85],
  [8.03,3.82],[8.07,3.8],[8.13,3.78],[8.17,3.8],[8.23,3.85],[8.27,3.88],[8.33,3.8],[8.37,3.82],[8.43,3.88],[8.47,3.92],[8.53,3.98],[8.57,4.0],[8.63,3.98],[8.67,4.0],
  [9.03,3.72],[9.07,3.75],[9.13,3.7],[9.17,3.72],[9.23,3.7],[9.27,3.72],[9.33,3.75],[9.37,3.75],[9.43,3.72],[9.47,3.75],[9.53,3.82],[9.57,3.85],[9.63,3.88],[9.67,3.88],[9.73,3.9],[9.77,3.92],[9.83,3.88],[9.87,3.82],[9.93,3.8],[9.97,3.78],
  [10.03,3.75],[10.07,3.72],[10.13,3.72],[10.17,3.75],[10.23,3.78],[10.27,3.78],[10.33,3.82],[10.37,3.8],[10.43,3.75],[10.47,3.7],
  [11.03,3.65],[11.07,3.6],[11.13,3.65],[11.17,3.68],[11.23,3.62],[11.27,3.68],[11.33,3.72],[11.37,3.75],[11.43,3.78],[11.47,3.78],[11.53,3.8],[11.57,3.82],[11.63,3.88],[11.67,3.9],[11.73,3.92],[11.77,3.95],[11.83,3.95],[11.87,4.0],[11.93,4.0],[11.97,4.05],
  [12.03,4.02],[12.07,4.05],[12.13,4.08],[12.17,4.1],[12.23,4.08],[12.27,4.08],[12.33,4.12],[12.37,4.15],[12.43,4.12],[12.47,4.25],
  [14.03,3.85],[14.07,3.95],[14.13,3.8],[14.17,3.78],[14.23,3.85],[14.27,4.05],[14.33,4.15],[14.37,4.2],
];

const panelTitles = ['True dir Over Time', 'MSVAR Direction Over Time', 'PN Direction Over Time'];
const panelYLabels = ['Speed', 'Radians', 'Radians'];
const xTicks = [0, 5, 10, 15];
const yTicks = [0, 1, 2, 3, 4, 5, 6];

// R pads the data range by 4% on each side
const X_DOMAIN: [number, number] = [-0.6, 15.6];
const Y_DOMAIN: [number, number] = [-0.2513, 6.5345];

const FONT = '"Liberation Sans", Arial, Helvetica, sans-serif';
const PANEL_W = 375;
const PANEL_H = 452;
const MARGIN = { top: 45, right: 18, bottom: 0, left: 0 };

const Dot = (props: any) => {
  const { cx, cy } = props;
  if (cx == null || cy == null) return null;
  return <rect x={cx - 0.75} y={cy - 0.75} width={1.5} height={1.5} fill="#1a1a1a" />;
};

const XTick = (props: any) => {
  const { x, y, payload } = props;
  return (
    <text x={x} y={y} textAnchor="middle" dominantBaseline="central" fontSize={9.5} fill="#222" fontFamily={FONT}>
      {payload.value}
    </text>
  );
};

const YTick = (props: any) => {
  const { x, y, payload } = props;
  return (
    <text x={x} y={y} textAnchor="middle" dominantBaseline="central" fontSize={9.5} fill="#222" fontFamily={FONT}
      transform={`rotate(-90 ${x} ${y})`}>
      {payload.value}
    </text>
  );
};

const Panel = ({ points, title, yLabel, left }: { points: number[][]; title: string; yLabel: string; left: number }) => {
  const data = points.map(([day, value]) => ({ day, value }));
  return (
    <div style={{ position: 'absolute', left, top: 0, width: PANEL_W, height: PANEL_H }}>
      <ScatterChart width={PANEL_W} height={PANEL_H} margin={MARGIN}>
        <XAxis
          type="number"
          dataKey="day"
          domain={X_DOMAIN}
          ticks={xTicks}
          allowDataOverflow
          height={53}
          axisLine={false}
          tickSize={7}
          tickMargin={12}
          tickLine={{ stroke: '#222' }}
          tick={<XTick />}
          interval={0}
        />
        <YAxis
          type="number"
          dataKey="value"
          domain={Y_DOMAIN}
          ticks={yTicks}
          allowDataOverflow
          width={58}
          axisLine={false}
          tickSize={7}
          tickMargin={11}
          tickLine={{ stroke: '#222' }}
          tick={<YTick />}
          interval={0}
        />
        <ReferenceArea
          x1={X_DOMAIN[0]}
          x2={X_DOMAIN[1]}
          y1={Y_DOMAIN[0]}
          y2={Y_DOMAIN[1]}
          fill="none"
          stroke="#222"
          strokeWidth={1}
          ifOverflow="visible"
        />
        <Scatter data={data} shape={<Dot />} isAnimationActive={false} />
      </ScatterChart>
      <div style={{ position: 'absolute', left: 58, width: 299, top: 14, textAlign: 'center', fontFamily: FONT, fontWeight: 'bold', fontSize: 11, color: '#111' }}>
        {title}
      </div>
      <div style={{ position: 'absolute', left: 58, width: 299, top: 438, textAlign: 'center', fontFamily: FONT, fontSize: 9.5, color: '#222' }}>
        Day
      </div>
      <div style={{ position: 'absolute', left: 15, top: 222, width: 0, height: 0 }}>
        <div style={{ position: 'absolute', transform: 'translate(-50%, -50%) rotate(-90deg)', fontFamily: FONT, fontSize: 9.5, color: '#222', whiteSpace: 'nowrap' }}>
          {yLabel}
        </div>
      </div>
    </div>
  );
};

export default function App() {
  const series = [
    trueDirPoints.concat(trueDirExtra),
    msvarPoints.concat(msvarExtra),
    pnPoints.concat(pnExtra),
  ];
  return (
    <div style={{ position: 'absolute', left: 0, top: 0, width: 1096, height: 452, overflow: 'hidden', background: '#fff' }}>
      {series.map((pts, i) => (
        <Panel key={i} points={pts} title={panelTitles[i]} yLabel={panelYLabels[i]} left={i * PANEL_W} />
      ))}
    </div>
  );
}
